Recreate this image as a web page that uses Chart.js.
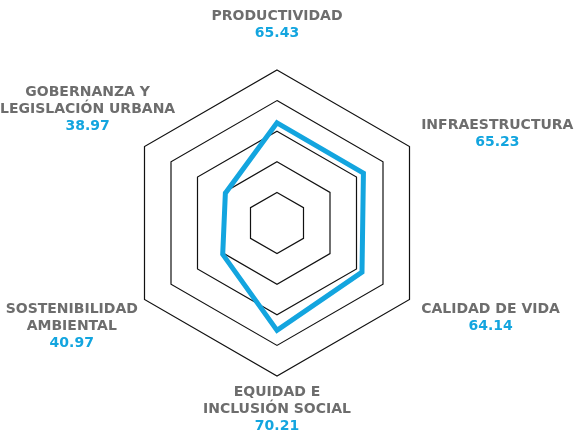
<!DOCTYPE html>
<html>
<head>
<meta charset="utf-8">
<script src="https://cdn.jsdelivr.net/npm/chart.js@4"></script>
<style>
    html, body { margin: 0; padding: 0; background: #fff; }
    #wrap { width: 581px; height: 436px; }
</style>
</head>
<body>
<div id="wrap"><canvas id="radar"></canvas></div>
<script>
// nombres de las dimensiones (una entrada por linea)
const dimensiones = [
    ["PRODUCTIVIDAD"],
    ["INFRAESTRUCTURA"],
    ["CALIDAD DE VIDA"],
    ["EQUIDAD E", "INCLUSIÓN SOCIAL"],
    ["SOSTENIBILIDAD", "AMBIENTAL"],
    ["GOBERNANZA Y", "LEGISLACIÓN URBANA"],
];

// puntaje de cada dimension
const puntajes = [65.43, 65.23, 64.14, 70.21, 40.97, 38.97];

// anillos de la escala
const escala = [0, 20, 40, 60, 80, 100];

const AZUL = "#13a5df";
const GRIS = "#6d6d6d";

// dibuja los nombres y los valores alrededor del hexagono
const etiquetas = {
    id: "etiquetas",
    afterDraw(chart) {
        const ctx = chart.ctx;
        const r = chart.scales.r;
        const lh = 17;
        // pequeño ajuste vertical por etiqueta
        const ajusteY = [0, 0, 0, 0, 0, -16];

        ctx.save();
        ctx.textAlign = "center";
        ctx.textBaseline = "middle";
        ctx.font = "bold 14px 'DejaVu Sans'";

        dimensiones.forEach(function (nombre, i) {
            const p = r.getPointPosition(i, r.drawingArea + 10);
            const lineas = nombre.concat([puntajes[i].toFixed(2)]);
            let ancho = 0;
            lineas.forEach(function (l) {
                ancho = Math.max(ancho, ctx.measureText(l).width);
            });

            const dx = p.x - r.xCenter;
            const dy = p.y - r.yCenter;
            let cx = p.x;
            let y0;
            if (Math.abs(dx) < 1) {
                y0 = dy < 0 ? p.y - 27 - (lineas.length - 1) * lh : p.y + 6;
            } else {
                cx = dx > 0 ? p.x + 3 + ancho / 2 : p.x + 2 - ancho / 2;
                cx = Math.max(ancho / 2, Math.min(chart.width - ancho / 2, cx));
                y0 = dy < 0 ? p.y + 1 - (lineas.length - 1) * lh : p.y + 5;
            }
            y0 += ajusteY[i];

            lineas.forEach(function (l, k) {
                ctx.fillStyle = k === lineas.length - 1 ? AZUL : GRIS;
                ctx.fillText(l, cx, y0 + k * lh);
            });
        });
        ctx.restore();
    },
};

const config = {
    type: "radar",
    data: {
        labels: dimensiones,
        datasets: [
            {
                data: puntajes,
                borderColor: AZUL,
                borderWidth: 5,
                borderJoinStyle: "miter",
                fill: false,
                pointRadius: 0,
                pointHoverRadius: 0,
                tension: 0,
            },
        ],
    },
    options: {
        responsive: true,
        maintainAspectRatio: false,
        animation: false,
        layout: { padding: { top: 70, bottom: 60, left: 0, right: 26 } },
        plugins: {
            legend: { display: false },
            tooltip: { enabled: false },
        },
        scales: {
            r: {
                min: escala[0],
                max: escala[escala.length - 1],
                ticks: { display: false, stepSize: escala[1] - escala[0] },
                pointLabels: { display: false },
                angleLines: { display: false },
                grid: { color: "#111111", lineWidth: 1.2 },
            },
        },
    },
    plugins: [etiquetas],
};

var myChart = new Chart(document.getElementById("radar"), config);
</script>
</body>
</html>
